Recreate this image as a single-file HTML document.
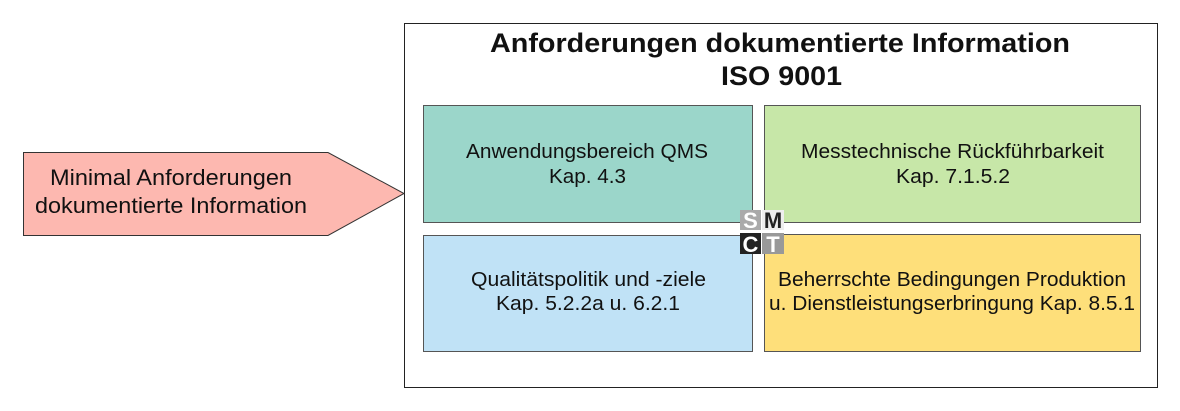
<!DOCTYPE html>
<html><head><meta charset="utf-8"><style>
html,body{margin:0;padding:0;background:#fff;width:1180px;height:411px;overflow:hidden}
svg text{font-family:"Liberation Sans",sans-serif;fill:#111}
</style></head><body>
<svg width="1180" height="411" xmlns="http://www.w3.org/2000/svg">
<rect x="404.5" y="23.5" width="753" height="364" fill="#fff" stroke="#222" stroke-width="1"/>
<text x="490" y="52" font-size="27" font-weight="bold" textLength="580" lengthAdjust="spacingAndGlyphs">Anforderungen dokumentierte Information</text>
<text x="721" y="85" font-size="27" font-weight="bold" textLength="121" lengthAdjust="spacingAndGlyphs">ISO 9001</text>
<polygon points="23.5,152.5 328,152.5 404,193.5 328,235.5 23.5,235.5" fill="#fdb8b0" stroke="#333" stroke-width="1"/>
<text x="50" y="185" font-size="22" textLength="242" lengthAdjust="spacingAndGlyphs">Minimal Anforderungen</text>
<text x="35" y="213" font-size="22" textLength="272" lengthAdjust="spacingAndGlyphs">dokumentierte Information</text>
<rect x="423.5" y="105.5" width="329" height="117" fill="#9bd6ca" stroke="#555"/>
<rect x="764.5" y="105.5" width="376" height="117" fill="#c7e7a8" stroke="#555"/>
<rect x="423.5" y="235.5" width="329" height="116" fill="#c0e2f6" stroke="#555"/>
<rect x="764.5" y="234.5" width="376" height="117" fill="#fedf7a" stroke="#555"/>
<g font-size="20">
<text x="466" y="158" textLength="242" lengthAdjust="spacingAndGlyphs">Anwendungsbereich QMS</text>
<text x="549" y="183" textLength="77" lengthAdjust="spacingAndGlyphs">Kap. 4.3</text>
<text x="801" y="158" textLength="303" lengthAdjust="spacingAndGlyphs">Messtechnische Rückführbarkeit</text>
<text x="896" y="183" textLength="114" lengthAdjust="spacingAndGlyphs">Kap. 7.1.5.2</text>
<text x="471" y="286" textLength="235" lengthAdjust="spacingAndGlyphs">Qualitätspolitik und -ziele</text>
<text x="496" y="310" textLength="184" lengthAdjust="spacingAndGlyphs">Kap. 5.2.2a u. 6.2.1</text>
<text x="778" y="286" textLength="348" lengthAdjust="spacingAndGlyphs">Beherrschte Bedingungen Produktion</text>
<text x="769" y="310" textLength="366" lengthAdjust="spacingAndGlyphs">u. Dienstleistungserbringung Kap. 8.5.1</text>
</g>
<rect x="740" y="210" width="21" height="20" fill="#aaa"/>
<rect x="762" y="210" width="22" height="20" fill="#eee"/>
<rect x="740" y="233" width="21" height="21" fill="#222"/>
<rect x="762" y="233" width="22" height="21" fill="#999"/>
<text x="750.5" y="228" font-size="22" font-weight="bold" text-anchor="middle" style="fill:#fff">S</text>
<text x="773" y="228" font-size="22" font-weight="bold" text-anchor="middle" style="fill:#222">M</text>
<text x="750.5" y="252" font-size="22" font-weight="bold" text-anchor="middle" style="fill:#fff">C</text>
<text x="773" y="252" font-size="22" font-weight="bold" text-anchor="middle" style="fill:#fff">T</text>
</svg>
</body></html>
